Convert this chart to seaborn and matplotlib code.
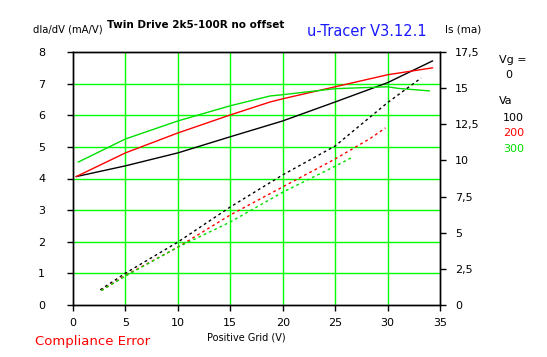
import matplotlib
matplotlib.use("Agg")
import matplotlib.pyplot as plt
import seaborn as sns
import pandas as pd
from matplotlib.ticker import FixedLocator, FuncFormatter

# ---- data ----
va_labels = ["100", "200", "300"]
series_colors = ["#000000", "#ff0000", "#00e000"]

# dIa/dV (mA/V), left axis
grid_black = [0.3, 5, 10, 15, 18.8, 20, 25, 30, 34.3]
gm_black = [4.06, 4.40, 4.81, 5.32, 5.70, 5.82, 6.42, 7.03, 7.72]
grid_red = [0.3, 5, 10, 15, 18.8, 20, 25, 30, 34.3]
gm_red = [4.06, 4.81, 5.44, 6.01, 6.42, 6.52, 6.90, 7.28, 7.50]
grid_green = [0.5, 5, 10, 15, 18.8, 20, 25, 30, 31, 34]
gm_green = [4.52, 5.25, 5.82, 6.30, 6.61, 6.65, 6.84, 6.90, 6.85, 6.77]

# Is (mA), right axis
is_grid_black = [2.6, 5, 10, 15, 20, 25, 30, 33.2]
is_black = [1.05, 2.2, 4.35, 6.78, 9.0, 11.0, 14.0, 15.7]
is_grid_red = [2.7, 5, 10, 15, 20, 25, 28.3, 29.8]
is_red = [1.0, 2.05, 4.0, 6.23, 8.17, 10.1, 11.5, 12.25]
is_grid_green = [2.7, 5, 10, 15, 20, 25, 26.6]
is_green = [1.0, 2.0, 4.0, 5.74, 7.8, 9.6, 10.2]

x_ticks = [0, 5, 10, 15, 20, 25, 30, 35]
left_ticks = [0, 1, 2, 3, 4, 5, 6, 7, 8]
right_ticks = [0, 2.5, 5, 7.5, 10, 12.5, 15, 17.5]

sns.set_style("white")
plt.rcParams['font.family'] = ['DejaVu Sans']
plt.rcParams['text.color'] = 'black'
plt.rcParams['xtick.color'] = 'black'
plt.rcParams['ytick.color'] = 'black'
plt.rcParams['xtick.labelcolor'] = 'black'
plt.rcParams['ytick.labelcolor'] = 'black'

fig = plt.figure(figsize=(5.47, 3.57), dpi=100)
ax = fig.add_axes([73/547, 52/357, 367/547, 253/357])
ax2 = ax.twinx()

GREEN = "#00ff00"
ax.set_xlim(0, 35)
ax.set_ylim(0, 8)
ax2.set_ylim(0, 17.5)
for v in x_ticks[1:-1]:
    ax.axvline(v, color=GREEN, lw=1.0, zorder=0.5)
for v in left_ticks[1:-1]:
    ax.axhline(v, color=GREEN, lw=1.0, zorder=0.5)

solid = [(grid_black, gm_black), (grid_red, gm_red), (grid_green, gm_green)]
dashed = [(is_grid_black, is_black), (is_grid_red, is_red), (is_grid_green, is_green)]

for (xs, ys), c in zip(solid, series_colors):
    df = pd.DataFrame({"x": xs, "y": ys})
    sns.lineplot(data=df, x="x", y="y", ax=ax, color=c, lw=1.0,
                 estimator=None, sort=False, zorder=3)
for (xs, ys), c in zip(dashed, series_colors):
    df = pd.DataFrame({"x": xs, "y": ys})
    sns.lineplot(data=df, x="x", y="y", ax=ax2, color=c, lw=1.0,
                 estimator=None, sort=False, zorder=3, linestyle=(0, (2, 2.2)))

for a in (ax, ax2):
    a.set_xlabel("")
    a.set_ylabel("")
    for s in a.spines.values():
        s.set_color("black")
        s.set_linewidth(1.0)

ax.xaxis.set_major_locator(FixedLocator(x_ticks))
ax.yaxis.set_major_locator(FixedLocator(left_ticks))
ax2.yaxis.set_major_locator(FixedLocator(right_ticks))
ax2.yaxis.set_major_formatter(FuncFormatter(lambda v, p: (f"{v:g}").replace(".", ",")))
ax.tick_params(axis="x", direction="out", length=4, width=1, color="black",
               labelsize=8, pad=5, bottom=True, labelcolor="black")
ax.tick_params(axis="y", direction="out", length=4, width=1, color="black",
               labelsize=8, pad=16, left=True, labelcolor="black")
ax2.tick_params(axis="y", direction="out", length=4, width=1, color="black",
                labelsize=8, pad=7, right=True, labelcolor="black")

# texts
fig.text(33/547, 1 - 29/357, "dIa/dV (mA/V)", fontsize=7.2, va="center", ha="left")
fig.text(107/547, 1 - 25/357, "Twin Drive 2k5-100R no offset", fontsize=7.5,
         fontweight="bold", va="center", ha="left")
fig.text(307/547, 1 - 31/357, "u-Tracer V3.12.1", fontsize=10.5, color="#1a1aff",
         va="center", ha="left")
fig.text(445/547, 1 - 30/357, "Is (ma)", fontsize=7.5, va="center", ha="left")
fig.text(499/547, 1 - 60/357, "Vg =", fontsize=8, va="center", ha="left")
fig.text(505/547, 1 - 75/357, "0", fontsize=8, va="center", ha="left")
fig.text(499/547, 1 - 101/357, "Va", fontsize=8, va="center", ha="left")
for i, (lab, c) in enumerate(zip(va_labels, series_colors)):
    fig.text(503/547, 1 - (118 + 15.5 * i)/357, lab, fontsize=8, color=c,
             va="center", ha="left")
fig.text(246/547, 1 - 338/357, "Positive Grid (V)", fontsize=7, va="center", ha="center")
fig.text(35/547, 1 - 342/357, "Compliance Error", fontsize=9.5, color="#ff0000",
         va="center", ha="left")

fig.savefig("out.png", dpi=100, facecolor="white")
